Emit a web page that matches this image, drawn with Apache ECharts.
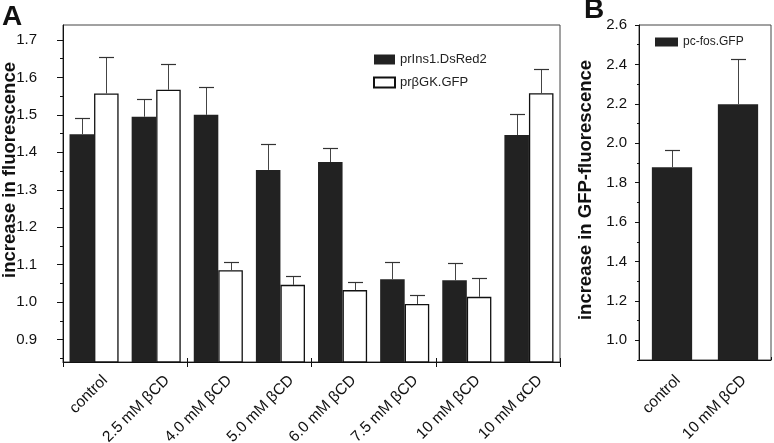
<!DOCTYPE html>
<html><head><meta charset="utf-8">
<script src="https://cdn.jsdelivr.net/npm/echarts@6/dist/echarts.min.js"></script>
<style>html,body{margin:0;padding:0;background:#fff}#c{width:774px;height:443px}</style>
</head><body><div id="c"></div>
<script>
const categoriesA = ['control','2.5 mM βCD','4.0 mM βCD','5.0 mM βCD','6.0 mM βCD','7.5 mM βCD','10 mM βCD','10 mM αCD'];
const insDsRed = [1.448, 1.495, 1.500, 1.353, 1.374, 1.061, 1.058, 1.446];
const insDsRedErr = [0.043, 0.047, 0.075, 0.070, 0.038, 0.046, 0.046, 0.057];
const gkGfp = [1.557, 1.567, 1.085, 1.046, 1.032, 0.995, 1.014, 1.558];
const gkGfpErr = [0.098, 0.070, 0.022, 0.023, 0.021, 0.025, 0.050, 0.064];
const yTicksA = [0.9, 1.0, 1.1, 1.2, 1.3, 1.4, 1.5, 1.6, 1.7];
const yMinorA = [0.85, 0.95, 1.05, 1.15, 1.25, 1.35, 1.45, 1.55, 1.65];
const titleA = 'increase in fluorescence';

const categoriesB = ['control', '10 mM βCD'];
const fosGfp = [1.878, 2.198];
const fosGfpErr = [0.087, 0.230];
const yTicksB = [1.0, 1.2, 1.4, 1.6, 1.8, 2.0, 2.2, 2.4, 2.6];
const yMinorB = [0.9, 1.1, 1.3, 1.5, 1.7, 1.9, 2.1, 2.3, 2.5];
const titleB = 'increase in GFP-fluorescence';

const FONT = '"Liberation Sans", Arial, Helvetica, sans-serif';
const GAP_A = 0.21, GAP_B = 0.39;

function errBar(gapFrac, nBars, idx, capW) {
  return function (params, api) {
    const ci = api.value(0), v = api.value(1), e = api.value(2);
    const p0 = api.coord([ci, v]);
    const p1 = api.coord([ci, v + e]);
    const cw = api.size([1, 0])[0];
    const groupW = cw * (1 - gapFrac);
    const bw = groupW / nBars;
    const x = Math.round(p0[0] - groupW / 2 + bw * (idx + 0.5)) + 0.5;
    const yt = Math.round(p1[1]) + 0.5;
    return {
      type: 'group',
      children: [
        { type: 'line', shape: { x1: x, y1: p0[1], x2: x, y2: yt }, style: { stroke: '#444', lineWidth: 1 } },
        { type: 'line', shape: { x1: x - capW / 2, y1: yt, x2: x + capW / 2, y2: yt }, style: { stroke: '#333', lineWidth: 1.2 } }
      ]
    };
  };
}
const toTriples = (vals, errs) => vals.map((v, i) => [i, v, errs[i]]);

const hiddenValueAxis = (gi) => ({ type: 'value', gridIndex: gi, show: false, min: 0, max: 1 });

const chart = echarts.init(document.getElementById('c'));
chart.setOption({
  animation: false,
  backgroundColor: '#fff',
  textStyle: { fontFamily: FONT },
  graphic: [
    { type: 'text', left: 2, top: 3, style: { text: 'A', font: 'bold 28px ' + FONT, fill: '#111' } },
    { type: 'text', left: 584, top: -4, style: { text: 'B', font: 'bold 28px ' + FONT, fill: '#111' } },
    { type: 'text', x: 9.5, y: 170, rotation: Math.PI / 2,
      style: { text: titleA, font: 'bold 18.5px ' + FONT, fill: '#111', align: 'center', verticalAlign: 'middle' } },
    { type: 'text', x: 586, y: 190, rotation: Math.PI / 2,
      style: { text: titleB, font: 'bold 18.5px ' + FONT, fill: '#111', align: 'center', verticalAlign: 'middle' } }
  ],
  grid: [
    { left: 63, top: 25, width: 497, height: 337, show: true, borderColor: '#444', borderWidth: 1, backgroundColor: 'transparent', outerBoundsMode: 'none', containLabel: false },
    { left: 639, top: 25, width: 132, height: 335, show: true, borderColor: '#444', borderWidth: 1, backgroundColor: 'transparent', outerBoundsMode: 'none', containLabel: false },
    { left: 74, top: 25, width: 497, height: 337, show: false, outerBoundsMode: 'none', containLabel: false },
    { left: 645, top: 25, width: 132, height: 335, show: false, outerBoundsMode: 'none', containLabel: false }
  ],
  legend: [
    { data: ['prIns1.DsRed2', 'prβGK.GFP'], orient: 'vertical', left: 373, top: 53, padding: 0, itemWidth: 21, itemHeight: 10, itemGap: 10, icon: 'rect',
      textStyle: { fontSize: 13, color: '#222', fontFamily: FONT }, selectedMode: false },
    { data: ['pc-fos.GFP'], orient: 'vertical', left: 655, top: 36, padding: 0, itemWidth: 23, itemHeight: 9, icon: 'rect',
      textStyle: { fontSize: 12, color: '#222', fontFamily: FONT }, selectedMode: false }
  ],
  xAxis: [
    { type: 'category', gridIndex: 0, data: categoriesA,
      axisLine: { lineStyle: { color: '#111', width: 1 } },
      axisTick: { show: true, length: 5, inside: false, lineStyle: { color: '#111' } },
      axisLabel: { show: false } },
    { type: 'category', gridIndex: 0, data: categoriesA, position: 'bottom', offset: 0,
      axisLine: { show: false }, axisLabel: { show: false },
      axisTick: { show: true, length: 4, inside: true, lineStyle: { color: '#111' } } },
    { type: 'category', gridIndex: 1, data: categoriesB,
      axisLine: { lineStyle: { color: '#111', width: 1 } },
      axisTick: { show: true, length: 3, inside: true, lineStyle: { color: '#111' } },
      axisLabel: { show: false } },
    { type: 'category', gridIndex: 2, data: categoriesA,
      axisLine: { show: false }, axisTick: { show: false },
      axisLabel: { rotate: 45, interval: 0, margin: 16, fontSize: 15.5, color: '#111', fontFamily: FONT } },
    { type: 'category', gridIndex: 3, data: categoriesB,
      axisLine: { show: false }, axisTick: { show: false },
      axisLabel: { rotate: 45, interval: 0, margin: 18, fontSize: 15.5, color: '#111', fontFamily: FONT } }
  ],
  yAxis: [
    { type: 'value', gridIndex: 0, min: 0.84, max: 1.74, position: 'left',
      axisLine: { show: true, lineStyle: { color: '#111', width: 1 } },
      axisTick: { show: true, length: 6, customValues: yTicksA, lineStyle: { color: '#111' } },
      axisLabel: { customValues: yTicksA, margin: 26, fontSize: 15, color: '#111', fontFamily: FONT, formatter: v => v.toFixed(1) },
      splitLine: { show: false } },
    { type: 'value', gridIndex: 0, min: 0.84, max: 1.74, position: 'left', offset: 0,
      axisLine: { show: false }, axisLabel: { show: false }, splitLine: { show: false },
      axisTick: { show: true, length: 3, customValues: yMinorA, lineStyle: { color: '#111' } } },
    { type: 'value', gridIndex: 1, min: 0.9, max: 2.6, position: 'left',
      axisLine: { show: true, lineStyle: { color: '#111', width: 1 } },
      axisTick: { show: true, length: 4, customValues: yTicksB, lineStyle: { color: '#111' } },
      axisLabel: { customValues: yTicksB, margin: 12, fontSize: 15, color: '#111', fontFamily: FONT, formatter: v => v.toFixed(1) },
      splitLine: { show: false } },
    { type: 'value', gridIndex: 1, min: 0.9, max: 2.6, position: 'left', offset: 0,
      axisLine: { show: false }, axisLabel: { show: false }, splitLine: { show: false },
      axisTick: { show: true, length: 2, customValues: yMinorB, lineStyle: { color: '#111' } } },
    hiddenValueAxis(2),
    hiddenValueAxis(3)
  ],
  series: [
    { name: 'prIns1.DsRed2', type: 'bar', xAxisIndex: 0, yAxisIndex: 0, data: insDsRed,
      barGap: '0%', barCategoryGap: (GAP_A * 100) + '%', itemStyle: { color: '#222' } },
    { name: 'prβGK.GFP', type: 'bar', xAxisIndex: 0, yAxisIndex: 0, data: gkGfp,
      barGap: '0%', barCategoryGap: (GAP_A * 100) + '%', itemStyle: { color: '#fff', borderColor: '#111', borderWidth: 1.3 } },
    { type: 'custom', xAxisIndex: 0, yAxisIndex: 0, data: toTriples(insDsRed, insDsRedErr),
      encode: { x: 0, y: 1 }, renderItem: errBar(GAP_A, 2, 0, 15), z: 5 },
    { type: 'custom', xAxisIndex: 0, yAxisIndex: 0, data: toTriples(gkGfp, gkGfpErr),
      encode: { x: 0, y: 1 }, renderItem: errBar(GAP_A, 2, 1, 15), z: 5 },
    { name: 'pc-fos.GFP', type: 'bar', xAxisIndex: 2, yAxisIndex: 2, data: fosGfp,
      barCategoryGap: (GAP_B * 100) + '%', itemStyle: { color: '#222' } },
    { type: 'custom', xAxisIndex: 2, yAxisIndex: 2, data: toTriples(fosGfp, fosGfpErr),
      encode: { x: 0, y: 1 }, renderItem: errBar(GAP_B, 1, 0, 15), z: 5 }
  ]
});
</script></body></html>
